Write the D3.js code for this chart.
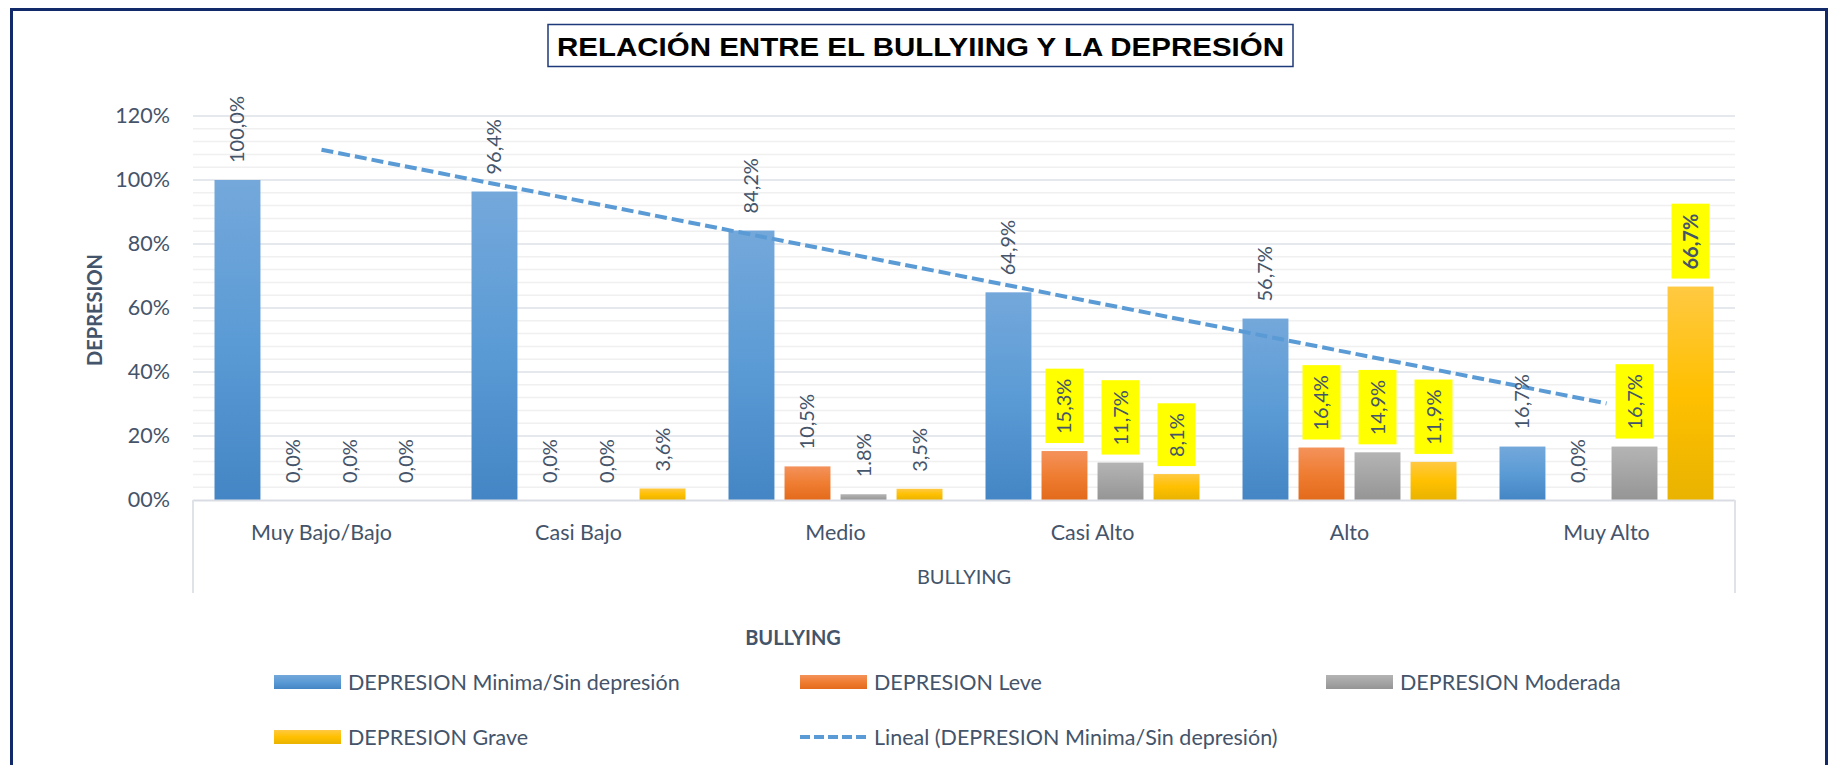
<!DOCTYPE html>
<html>
<head>
<meta charset="utf-8">
<script src="https://cdn.jsdelivr.net/npm/d3@7"></script>
<style>
  body { margin: 0; background: #fff; }
  text { font-family: Lato, "Open Sans", sans-serif; }
</style>
</head>
<body>
<svg id="chart"></svg>
<script>
// ---- data ----
const categories = ["Muy Bajo/Bajo", "Casi Bajo", "Medio", "Casi Alto", "Alto", "Muy Alto"];
const seriesNames = ["DEPRESION Minima/Sin depresión", "DEPRESION Leve", "DEPRESION Moderada", "DEPRESION Grave"];
const minima   = [100.0, 96.4, 84.2, 64.9, 56.7, 16.7];
const leve     = [0.0, 0.0, 10.5, 15.3, 16.4, 0.0];
const moderada = [0.0, 0.0, 1.8, 11.7, 14.9, 16.7];
const grave    = [0.0, 3.6, 3.5, 8.1, 11.9, 66.7];
const yTicks = [0, 20, 40, 60, 80, 100, 120];
const yTickLabels = ["00%", "20%", "40%", "60%", "80%", "100%", "120%"];
const trendName = "Lineal (DEPRESION Minima/Sin depresión)";
// labels with a yellow box, as "category|series"
const highlighted = ["Casi Alto|1", "Casi Alto|2", "Casi Alto|3", "Alto|1", "Alto|2", "Alto|3", "Muy Alto|2", "Muy Alto|3"];
const boldLabels = ["Muy Alto|3"];
const labelOverrides = { "Medio|2": "1.8%" };

const seriesValues = [minima, leve, moderada, grave];

const W = 1829, H = 765;
const plot = { left: 193, right: 1735, top: 116, bottom: 500 };
const textColor = "#44546a";

const svg = d3.select("#chart").attr("width", W).attr("height", H);

// gradients like the excel fills
const gradStops = [
  ["#74a8db", "#5b9bd5", "#4485c5"],
  ["#f4925b", "#ef7d32", "#e36a1b"],
  ["#b4b4b4", "#a5a5a5", "#959595"],
  ["#ffc942", "#ffc000", "#e9b300"]
];
const defs = svg.append("defs");
gradStops.forEach((s, i) => {
  const g = defs.append("linearGradient").attr("id", "g" + i)
    .attr("x1", 0).attr("y1", 0).attr("x2", 0).attr("y2", 1);
  g.append("stop").attr("offset", "0%").attr("stop-color", s[0]);
  g.append("stop").attr("offset", "50%").attr("stop-color", s[1]);
  g.append("stop").attr("offset", "100%").attr("stop-color", s[2]);
});

// outer frame
svg.append("rect")
  .attr("x", 11.5).attr("y", 9.5).attr("width", 1815).attr("height", 800)
  .attr("fill", "none").attr("stroke", "#12296a").attr("stroke-width", 3);

// title box
svg.append("rect")
  .attr("x", 548).attr("y", 24.5).attr("width", 745).attr("height", 42)
  .attr("fill", "#fff").attr("stroke", "#1f3a7a").attr("stroke-width", 1.5);
svg.append("text")
  .attr("x", 920.5).attr("y", 55.5)
  .attr("text-anchor", "middle")
  .style("font-family", "'Liberation Sans', Arial, sans-serif")
  .style("font-weight", "bold").style("font-size", "26px")
  .attr("textLength", 727).attr("lengthAdjust", "spacingAndGlyphs")
  .attr("fill", "#000")
  .text("RELACIÓN ENTRE EL BULLYIING Y LA DEPRESIÓN");

// scales
const y = d3.scaleLinear().domain([0, 120]).range([plot.bottom, plot.top]);
const x0 = d3.scaleBand().domain(categories).range([plot.left, plot.right]).padding(0);
const x1 = d3.scaleBand().domain(d3.range(seriesNames.length))
  .range([0, x0.bandwidth()]).paddingInner(0.18).paddingOuter(0.384);

// gridlines: minor every 4%, major every 20%
const grid = svg.append("g");
grid.selectAll("line.minor")
  .data(d3.range(4, 120, 4).filter(v => v % 20 !== 0))
  .join("line").attr("class", "minor")
  .attr("x1", plot.left).attr("x2", plot.right)
  .attr("y1", d => y(d)).attr("y2", d => y(d))
  .attr("stroke", "#f0f0f0").attr("stroke-width", 1.5);
grid.selectAll("line.major")
  .data(yTicks.filter(v => v > 0))
  .join("line").attr("class", "major")
  .attr("x1", plot.left).attr("x2", plot.right)
  .attr("y1", d => y(d)).attr("y2", d => y(d))
  .attr("stroke", "#dde1e7").attr("stroke-width", 1.5);

// y axis labels
const yAxis = d3.axisLeft(y).tickValues(yTicks)
  .tickFormat((d, i) => yTickLabels[i]).tickSize(0).tickPadding(23);
const gy = svg.append("g").attr("transform", `translate(${plot.left},0)`).call(yAxis);
gy.select(".domain").remove();
gy.selectAll("text").style("font-size", "21.5px").attr("fill", textColor)
  .style("font-family", "Lato, sans-serif");

svg.append("text")
  .attr("transform", "translate(95,310) rotate(-90)")
  .attr("text-anchor", "middle").attr("dy", "0.35em")
  .style("font-size", "20px").style("font-weight", "bold")
  .attr("fill", textColor).text("DEPRESION");

// bars
const barData = [];
categories.forEach((c, ci) => {
  seriesValues.forEach((vals, si) => {
    barData.push({ cat: c, s: si, v: vals[ci], key: c + "|" + si });
  });
});

svg.append("g").selectAll("rect")
  .data(barData)
  .join("rect")
  .attr("x", d => x0(d.cat) + x1(d.s))
  .attr("y", d => y(d.v))
  .attr("width", x1.bandwidth())
  .attr("height", d => y(0) - y(d.v))
  .attr("fill", d => `url(#g${d.s})`);

// category axis (box style)
const axisG = svg.append("g");
axisG.append("line")
  .attr("x1", plot.left).attr("x2", plot.right)
  .attr("y1", plot.bottom + 0.5).attr("y2", plot.bottom + 0.5)
  .attr("stroke", "#d9dde3").attr("stroke-width", 2);
[plot.left, plot.right].forEach(px => {
  axisG.append("line")
    .attr("x1", px).attr("x2", px)
    .attr("y1", plot.bottom).attr("y2", 593)
    .attr("stroke", "#dfe3e8").attr("stroke-width", 2);
});
axisG.selectAll("text.cat")
  .data(categories)
  .join("text").attr("class", "cat")
  .attr("x", d => x0(d) + x0.bandwidth() / 2)
  .attr("y", 540)
  .attr("text-anchor", "middle")
  .style("font-size", "21.5px").attr("fill", textColor)
  .text(d => d);
axisG.append("text")
  .attr("x", (plot.left + plot.right) / 2).attr("y", 584)
  .attr("text-anchor", "middle")
  .style("font-size", "20px").attr("fill", textColor)
  .text("BULLYING");

// linear trend line of the first series
const xs = minima.map((_, i) => i + 1);
const mx = d3.mean(xs), my = d3.mean(minima);
const slope = d3.sum(xs.map((xv, i) => (xv - mx) * (minima[i] - my))) /
              d3.sum(xs.map(xv => (xv - mx) * (xv - mx)));
const icpt = my - slope * mx;
const trendPts = [0, categories.length - 1].map(i => ({ cat: categories[i], v: icpt + slope * (i + 1) }));
svg.append("path")
  .datum(trendPts)
  .attr("d", d3.line().x(d => x0(d.cat) + x0.bandwidth() / 2).y(d => y(d.v)))
  .attr("fill", "none").attr("stroke", "#5b9bd5")
  .attr("stroke-width", 4).attr("stroke-dasharray", "12 5");

// data labels, rotated
const fmt = v => v.toFixed(1).replace(".", ",") + "%";
const labels = svg.append("g").selectAll("g")
  .data(barData)
  .join("g")
  .attr("transform", d => `translate(${x0(d.cat) + x1(d.s) + x1.bandwidth() / 2},${y(d.v) - 17}) rotate(-90)`);

labels.each(function (d) {
  const g = d3.select(this);
  const isHi = highlighted.includes(d.key);
  const t = g.append("text")
    .attr("x", 0).attr("y", 0).attr("dy", "0.35em")
    .style("font-size", "20px")
    .style("font-weight", boldLabels.includes(d.key) ? "bold" : "normal")
    .attr("fill", textColor)
    .text(labelOverrides[d.key] || fmt(d.v));
  if (isHi) {
    const len = t.node().getComputedTextLength();
    g.insert("rect", "text")
      .attr("x", -9).attr("y", -19)
      .attr("width", len + 19).attr("height", 38)
      .attr("fill", "#ffff00");
  }
});

// legend
const legend = svg.append("g");
legend.append("text")
  .attr("x", 793).attr("y", 638).attr("dy", "0.35em")
  .attr("text-anchor", "middle")
  .style("font-size", "20px").style("font-weight", "bold")
  .attr("fill", textColor).text("BULLYING");

const legendItems = seriesNames.map((n, i) => ({ name: n, s: i }))
  .concat([{ name: trendName, s: -1 }]);
const colStep = 526, rowStep = 55;
const li = legend.selectAll("g.item")
  .data(legendItems)
  .join("g").attr("class", "item")
  .attr("transform", (d, i) => `translate(${274 + (i % 3) * colStep},${682 + Math.floor(i / 3) * rowStep})`);
li.each(function (d) {
  const g = d3.select(this);
  if (d.s >= 0) {
    g.append("rect").attr("x", 0).attr("y", -7).attr("width", 67).attr("height", 14)
      .attr("fill", `url(#g${d.s})`);
  } else {
    g.append("line").attr("x1", 0).attr("x2", 67).attr("y1", 0).attr("y2", 0)
      .attr("stroke", "#5b9bd5").attr("stroke-width", 4).attr("stroke-dasharray", "10 4");
  }
  g.append("text").attr("x", 74).attr("y", 0).attr("dy", "0.35em")
    .style("font-size", "21.5px").attr("fill", textColor).text(d.name);
});
</script>
</body>
</html>
